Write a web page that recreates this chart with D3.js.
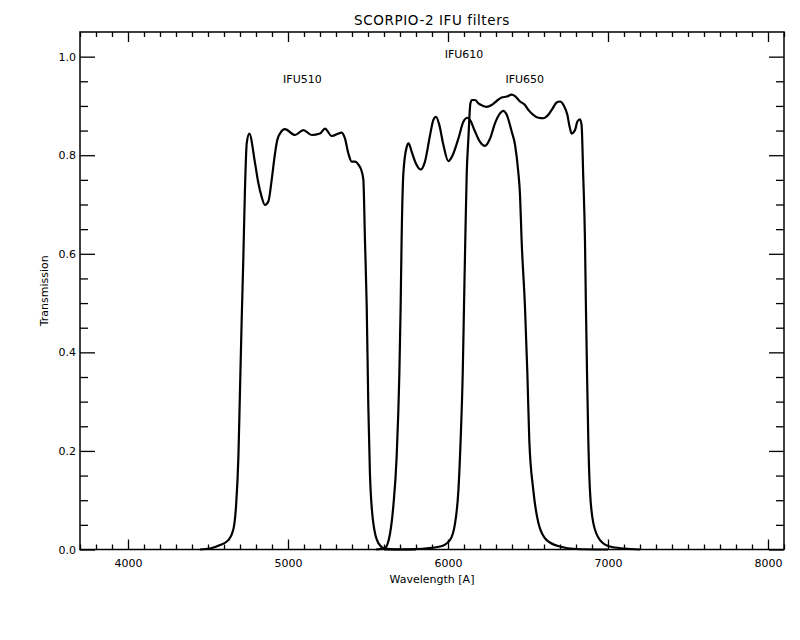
<!DOCTYPE html>
<html>
<head>
<meta charset="utf-8">
<script src="https://d3js.org/d3.v7.min.js"></script>
<style>
  body { margin: 0; background: #fff; }
  text { font-family: "DejaVu Sans", sans-serif; fill: #000; }
</style>
</head>
<body>
<div id="chart"></div>
<script>
// filter curves: wavelength [A] and transmission
const ifu510Wave = [4450, 4512, 4575, 4627, 4658, 4675, 4690, 4700, 4710, 4721, 4731, 4742, 4758,
    4794, 4815, 4835, 4856, 4877, 4898, 4919, 4933, 4950, 4981, 5044, 5096, 5148, 5200, 5231,
    5273, 5335, 5355, 5377, 5398, 5419, 5440, 5460, 5471, 5481, 5492, 5502, 5512, 5533, 5565,
    5606, 5700, 5800];
const ifu510Trans = [0, 0.002, 0.009, 0.019, 0.04, 0.087, 0.188, 0.324, 0.459, 0.594, 0.73, 0.824, 0.844,
    0.784, 0.743, 0.716, 0.699, 0.706, 0.75, 0.804, 0.831, 0.844, 0.853, 0.841, 0.851, 0.841, 0.844, 0.854,
    0.839, 0.846, 0.835, 0.804, 0.787, 0.787, 0.781, 0.768, 0.75, 0.628, 0.493, 0.29, 0.155, 0.054, 0.013,
    0.002, 0, 0];

const ifu610Wave = [5550, 5606, 5638, 5658, 5679, 5696, 5704, 5710, 5721, 5742, 5754, 5773, 5804,
    5829, 5856, 5888, 5908, 5925, 5946, 5971, 6002, 6029, 6065, 6096, 6121, 6138, 6169, 6200, 6231,
    6263, 6294, 6325, 6346, 6367, 6398, 6419, 6438, 6450, 6460, 6481, 6496, 6508, 6533, 6565, 6617,
    6700, 6800, 7000];
const ifu610Trans = [0, 0.003, 0.033, 0.087, 0.188, 0.357, 0.493, 0.628, 0.763, 0.817, 0.824, 0.807, 0.78,
    0.771, 0.787, 0.841, 0.871, 0.878, 0.861, 0.821, 0.788, 0.80, 0.834, 0.868, 0.876, 0.871, 0.848, 0.827, 0.819,
    0.834, 0.865, 0.885, 0.89, 0.882, 0.848, 0.821, 0.77, 0.72, 0.628, 0.493, 0.358, 0.222, 0.121, 0.054, 0.019,
    0.006, 0.001, 0];

const ifu650Wave = [5600, 5800, 5950, 6012, 6044, 6065, 6079, 6092, 6100, 6108, 6117, 6127, 6140, 6150,
    6169, 6190, 6221, 6242, 6273, 6304, 6335, 6367, 6398, 6419, 6450, 6481, 6502, 6533, 6565, 6596,
    6627, 6654, 6679, 6700, 6725, 6746, 6758, 6773, 6794, 6808, 6825, 6835, 6845, 6856, 6862, 6869,
    6877, 6887, 6908, 6950, 7012, 7100, 7200];
const ifu650Trans = [0, 0.001, 0.006, 0.019, 0.053, 0.12, 0.222, 0.357, 0.493, 0.628, 0.763, 0.831, 0.905, 0.912,
    0.912, 0.905, 0.90, 0.898, 0.902, 0.91, 0.917, 0.919, 0.923, 0.92, 0.909, 0.902, 0.892, 0.882, 0.876, 0.875,
    0.882, 0.895, 0.907, 0.909, 0.90, 0.882, 0.861, 0.844, 0.851, 0.868, 0.873, 0.861, 0.76, 0.628, 0.493, 0.358,
    0.222, 0.121, 0.054, 0.019, 0.006, 0.002, 0];

const filterNames = ["IFU510", "IFU610", "IFU650"];
const labelWave = [5090, 6100, 6480];
const labelTrans = [0.955, 1.005, 0.955];

const xMajorTicks = [4000, 5000, 6000, 7000, 8000];
const yMajorTicks = [0, 0.2, 0.4, 0.6, 0.8, 1.0];

const width = 800;
const height = 640;
const plotLeft = 80, plotRight = 784, plotTop = 32, plotBottom = 549.5;

const svg = d3.select("#chart")
    .append("svg")
    .attr("width", width)
    .attr("height", height);

const x = d3.scaleLinear().domain([3700, 8100]).range([plotLeft, plotRight]);
const y = d3.scaleLinear().domain([0, 1.05]).range([plotBottom, plotTop]);

const xMinor = d3.range(3700, 8101, 100).filter(d => d % 1000 !== 0);
const yMinor = d3.range(0, 21).map(i => i * 0.05).filter((d, i) => i % 4 !== 0);

// axes: ticks point into the plot on all four sides
const styleAxis = g => {
    g.select(".domain").remove();
    g.selectAll("line").attr("stroke", "#000").attr("stroke-width", 1.3);
    g.selectAll("text").attr("font-size", 11).attr("font-family", "DejaVu Sans");
};

svg.append("g")
    .attr("transform", `translate(0, ${plotBottom})`)
    .call(d3.axisBottom(x).tickValues(xMajorTicks).tickSize(-10).tickPadding(10).tickFormat(d3.format("d")))
    .call(styleAxis);
svg.append("g")
    .attr("transform", `translate(0, ${plotBottom})`)
    .call(d3.axisBottom(x).tickValues(xMinor).tickSize(-5).tickFormat(""))
    .call(styleAxis);
svg.append("g")
    .attr("transform", `translate(0, ${plotTop})`)
    .call(d3.axisTop(x).tickValues(xMajorTicks).tickSize(-10).tickFormat(""))
    .call(styleAxis);
svg.append("g")
    .attr("transform", `translate(0, ${plotTop})`)
    .call(d3.axisTop(x).tickValues(xMinor).tickSize(-5).tickFormat(""))
    .call(styleAxis);

svg.append("g")
    .attr("transform", `translate(${plotLeft}, 0)`)
    .call(d3.axisLeft(y).tickValues(yMajorTicks).tickSize(-15).tickPadding(4).tickFormat(d3.format(".1f")))
    .call(styleAxis);
svg.append("g")
    .attr("transform", `translate(${plotLeft}, 0)`)
    .call(d3.axisLeft(y).tickValues(yMinor).tickSize(-8).tickFormat(""))
    .call(styleAxis);
svg.append("g")
    .attr("transform", `translate(${plotRight}, 0)`)
    .call(d3.axisRight(y).tickValues(yMajorTicks).tickSize(-15).tickFormat(""))
    .call(styleAxis);
svg.append("g")
    .attr("transform", `translate(${plotRight}, 0)`)
    .call(d3.axisRight(y).tickValues(yMinor).tickSize(-8).tickFormat(""))
    .call(styleAxis);

svg.append("rect")
    .attr("x", plotLeft)
    .attr("y", plotTop)
    .attr("width", plotRight - plotLeft)
    .attr("height", plotBottom - plotTop)
    .attr("fill", "none")
    .attr("stroke", "#000")
    .attr("stroke-width", 1.5);

// curves
const line = d3.line()
    .x(d => x(d[0]))
    .y(d => y(d[1]))
    .curve(d3.curveMonotoneX);

const curves = [
    d3.zip(ifu510Wave, ifu510Trans),
    d3.zip(ifu610Wave, ifu610Trans),
    d3.zip(ifu650Wave, ifu650Trans)
];

svg.append("g")
    .selectAll("path")
    .data(curves)
    .join("path")
    .attr("d", line)
    .attr("fill", "none")
    .attr("stroke", "#000")
    .attr("stroke-width", 2.2)
    .attr("stroke-linejoin", "round");

// filter names
svg.append("g")
    .selectAll("text")
    .data(filterNames)
    .join("text")
    .attr("x", (d, i) => x(labelWave[i]))
    .attr("y", (d, i) => y(labelTrans[i]))
    .attr("dy", "0.35em")
    .attr("text-anchor", "middle")
    .attr("font-size", 11)
    .text(d => d);

// titles
svg.append("text")
    .attr("x", (plotLeft + plotRight) / 2)
    .attr("y", 25)
    .attr("text-anchor", "middle")
    .attr("font-size", 13.5)
    .attr("letter-spacing", 0.6)
    .text("SCORPIO-2 IFU filters");

svg.append("text")
    .attr("x", (plotLeft + plotRight) / 2)
    .attr("y", 583)
    .attr("text-anchor", "middle")
    .attr("font-size", 11)
    .text("Wavelength [A]");

svg.append("text")
    .attr("transform", `translate(48, ${(plotTop + plotBottom) / 2}) rotate(-90)`)
    .attr("text-anchor", "middle")
    .attr("font-size", 11)
    .text("Transmission");
</script>
</body>
</html>
